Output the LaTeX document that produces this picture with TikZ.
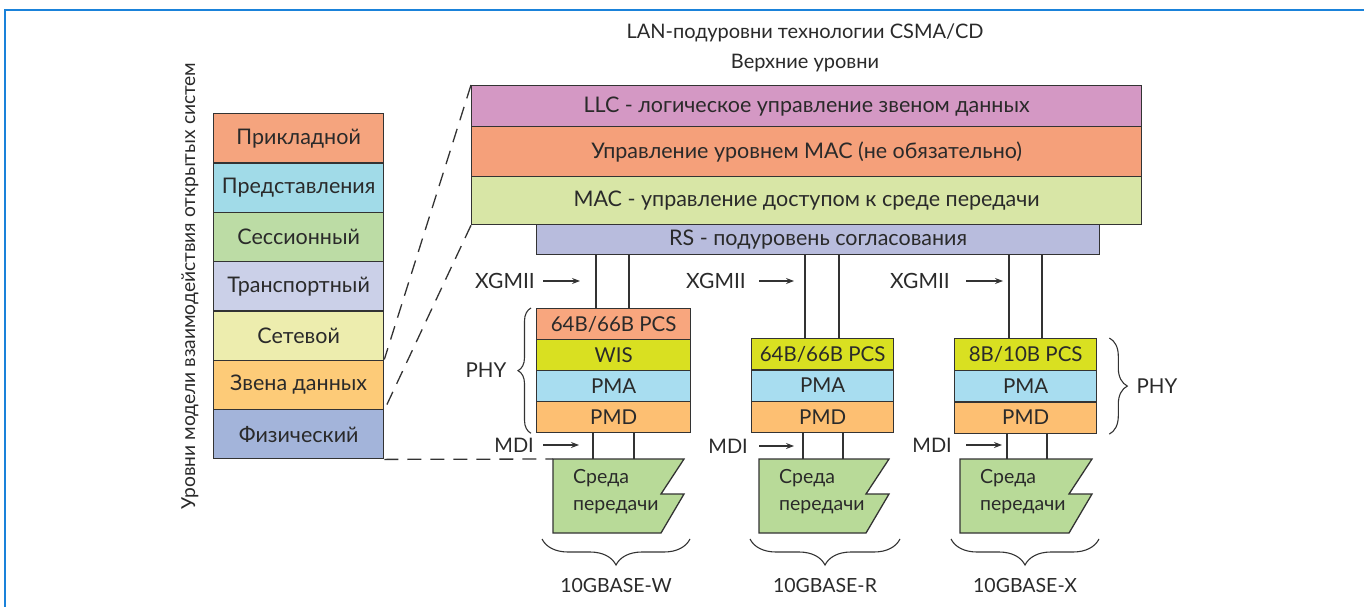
\documentclass[tikz,border=0pt]{standalone}
\usepackage{fontspec}
\setmainfont{Lato}
\usetikzlibrary{decorations.pathreplacing,arrows.meta}
\definecolor{ln}{HTML}{333333}
\definecolor{txt}{HTML}{2A2A2A}
\definecolor{frameblue}{HTML}{1A82DA}
\definecolor{cPrik}{HTML}{F5A47E}
\definecolor{cPred}{HTML}{A1DBE8}
\definecolor{cSess}{HTML}{BCDCA5}
\definecolor{cTran}{HTML}{CBD0E8}
\definecolor{cSet}{HTML}{EDEDAE}
\definecolor{cZven}{HTML}{FDCB78}
\definecolor{cFiz}{HTML}{A3B4DA}
\definecolor{cLLC}{HTML}{D498C4}
\definecolor{cUpr}{HTML}{F5A07A}
\definecolor{cMAC}{HTML}{D8E6A6}
\definecolor{cRS}{HTML}{B8BCDD}
\definecolor{cPCSo}{HTML}{F8A67E}
\definecolor{cYel}{HTML}{D9E021}
\definecolor{cPMA}{HTML}{A8DDF0}
\definecolor{cPMD}{HTML}{FDBF72}
\definecolor{cMed}{HTML}{B8DA98}
\begin{document}
\begin{tikzpicture}[x=1pt,y=-1pt,
  font=\fontsize{21.5}{25}\selectfont,
  every node/.style={text=txt},
  box/.style={draw=ln, line width=1.3pt, inner sep=0pt, anchor=north west},
  sbox/.style={box, font=\fontsize{20.5}{24}\selectfont},
  conn/.style={draw=ln, line width=1.3pt},
  dashln/.style={draw=ln, line width=1.3pt, dash pattern=on 14pt off 9pt},
  arr/.style={draw=ln, line width=1.1pt, -{Stealth[length=8pt,width=6pt]}},
  medium/.style={draw=ln, line width=1.3pt, fill=cMed},
  brc/.style={draw=ln, line width=1.1pt, decorate},
  lbl/.style={inner sep=0pt},
  xlbl/.style={lbl, font=\fontsize{21}{25}\selectfont},
  mlbl/.style={lbl, font=\fontsize{20}{24}\selectfont},
  glbl/.style={lbl, font=\fontsize{19.5}{23}\selectfont}]
\useasboundingbox (0,0) rectangle (1364,607);
\draw[frameblue, line width=2pt] (5,607) -- (5,10) -- (1364,10);

% OSI stack
\node[box, fill=cPrik, minimum width=170, minimum height=49.3] (osi1) at (213,113) {Прикладной};
\node[box, fill=cPred, minimum width=170, minimum height=49.3] (osi2) at (213,162.3) {Представления};
\node[box, fill=cSess, minimum width=170, minimum height=49.3] (osi3) at (213,211.6) {Сессионный};
\node[box, fill=cTran, minimum width=170, minimum height=49.3] (osi4) at (213,260.9) {Транспортный};
\node[box, fill=cSet, minimum width=170, minimum height=49.3] (osi5) at (213,310.2) {Сетевой};
\node[box, fill=cZven, minimum width=170, minimum height=49.3] (osi6) at (213,359.5) {Звена данных};
\node[box, fill=cFiz, minimum width=170, minimum height=49.3] (osi7) at (213,408.8) {Физический};
\node[lbl, rotate=90, font=\fontsize{19.2}{22}\selectfont] (osilbl) at (190,286) {Уровни модели взаимодействия открытых систем};

% titles
\node[lbl, font=\fontsize{20}{24}\selectfont] (title) at (805,33) {LAN-подуровни технологии CSMA/CD};
\node[lbl, font=\fontsize{20}{24}\selectfont] (upper) at (805,63) {Верхние уровни};

% LAN sublayers
\node[box, fill=cLLC, minimum width=670, minimum height=41] (llc) at (471,85) {LLC - логическое управление звеном данных};
\node[box, fill=cUpr, minimum width=670, minimum height=50] (upr) at (471,126) {Управление уровнем MAC (не обязательно)};
\node[box, fill=cMAC, minimum width=670, minimum height=48] (mac) at (471,176) {MAC - управление доступом к среде передачи};
\node[box, fill=cRS, minimum width=563, minimum height=30] (rs) at (536,224) {RS - подуровень согласования};

% dashed mapping lines
\draw[dashln] (llc.north west) -- (osi6.north east);
\draw[dashln] (mac.south west) -- (osi6.south east);

% column 1 (W)
\node[sbox, fill=cPCSo, minimum width=154, minimum height=31] (pcs1) at (536,308) {64B/66B PCS};
\node[sbox, fill=cYel, minimum width=154, minimum height=31] (wis1) at (536,339) {WIS};
\node[sbox, fill=cPMA, minimum width=154, minimum height=31] (pma1) at (536,370) {PMA};
\node[sbox, fill=cPMD, minimum width=154, minimum height=31] (pmd1) at (536,401) {PMD};

% column 2 (R)
\node[sbox, fill=cYel, minimum width=142, minimum height=31.3] (pcs2) at (751,338) {64B/66B PCS};
\node[sbox, fill=cPMA, minimum width=142, minimum height=31.3] (pma2) at (751,369.3) {PMA};
\node[sbox, fill=cPMD, minimum width=142, minimum height=31.3] (pmd2) at (751,400.6) {PMD};

% column 3 (X)
\node[sbox, fill=cYel, minimum width=142, minimum height=31.6] (pcs3) at (954,338) {8B/10B PCS};
\node[sbox, fill=cPMA, minimum width=142, minimum height=31.6] (pma3) at (954,369.6) {PMA};
\node[sbox, fill=cPMD, minimum width=142, minimum height=31.6] (pmd3) at (954,401.2) {PMD};

% media
\coordinate (m1) at (553,459);
\coordinate (m2) at (759,459);
\coordinate (m3) at (960,459);
\draw[medium] (m1) -- ++(131,0) -- ++(-23,35) -- ++(23,0) -- ++(-23,39) -- ++(-108,0) -- cycle;
\draw[medium] (m2) -- ++(130,0) -- ++(-23,35) -- ++(23,0) -- ++(-23,39) -- ++(-107,0) -- cycle;
\draw[medium] (m3) -- ++(132,0) -- ++(-23,35) -- ++(23,0) -- ++(-23,39) -- ++(-109,0) -- cycle;
\node[lbl, anchor=west, align=left, font=\fontsize{19.5}{27}\selectfont] (mt1) at ([xshift=20pt,yshift=-33pt]m1) {Среда\\передачи};
\node[lbl, anchor=west, align=left, font=\fontsize{19.5}{27}\selectfont] (mt2) at ([xshift=20pt,yshift=-33pt]m2) {Среда\\передачи};
\node[lbl, anchor=west, align=left, font=\fontsize{19.5}{27}\selectfont] (mt3) at ([xshift=20pt,yshift=-33pt]m3) {Среда\\передачи};

\draw[dashln] (osi7.south east) -- (m1);

% connectors RS -> PCS
\draw[conn] ([xshift=60pt]pcs1.north west) -- ([xshift=60pt]pcs1.north west |- rs.south);
\draw[conn] ([xshift=93pt]pcs1.north west) -- ([xshift=93pt]pcs1.north west |- rs.south);
\draw[conn] ([xshift=54pt]pcs2.north west) -- ([xshift=54pt]pcs2.north west |- rs.south);
\draw[conn] ([xshift=88pt]pcs2.north west) -- ([xshift=88pt]pcs2.north west |- rs.south);
\draw[conn] ([xshift=55pt]pcs3.north west) -- ([xshift=55pt]pcs3.north west |- rs.south);
\draw[conn] ([xshift=88pt]pcs3.north west) -- ([xshift=88pt]pcs3.north west |- rs.south);

% connectors PMD -> medium
\draw[conn] ([xshift=57pt]pmd1.south west) -- ([xshift=57pt]pmd1.south west |- m1);
\draw[conn] ([xshift=98pt]pmd1.south west) -- ([xshift=98pt]pmd1.south west |- m1);
\draw[conn] ([xshift=52pt]pmd2.south west) -- ([xshift=52pt]pmd2.south west |- m2);
\draw[conn] ([xshift=92pt]pmd2.south west) -- ([xshift=92pt]pmd2.south west |- m2);
\draw[conn] ([xshift=53pt]pmd3.south west) -- ([xshift=53pt]pmd3.south west |- m3);
\draw[conn] ([xshift=93pt]pmd3.south west) -- ([xshift=93pt]pmd3.south west |- m3);

% XGMII labels and arrows
\node[xlbl, anchor=east] (xg1) at (535,281) {XGMII};
\node[xlbl, anchor=east] (xg2) at (746,281) {XGMII};
\node[xlbl, anchor=east] (xg3) at (950,281) {XGMII};
\draw[arr] ([xshift=8pt]xg1.east) -- ++(37,0);
\draw[arr] ([xshift=13pt]xg2.east) -- ++(35,0);
\draw[arr] ([xshift=16pt]xg3.east) -- ++(37,0);

% MDI labels and arrows
\node[mlbl, anchor=east] (mdi1) at (534,445) {MDI};
\node[mlbl, anchor=east] (mdi2) at (748,446) {MDI};
\node[mlbl, anchor=east] (mdi3) at (952,445) {MDI};
\draw[arr] ([xshift=9pt]mdi1.east) -- ++(36,0);
\draw[arr] ([xshift=11pt]mdi2.east) -- ++(35,0);
\draw[arr] ([xshift=14pt]mdi3.east) -- ++(36,0);

% PHY braces
\draw[brc, decoration={brace, amplitude=13pt}] ([xshift=-5pt]pmd1.south west) -- ([xshift=-5pt]pcs1.north west);
\node[sbox, draw=none, anchor=east, inner sep=0pt] (phy1) at (507,370) {PHY};
\draw[brc, decoration={brace, amplitude=18pt}] ([xshift=12pt]pcs3.north east) -- ([xshift=12pt]pmd3.south east);
\node[sbox, draw=none, anchor=west, inner sep=0pt] (phy3) at (1136,386) {PHY};

% bottom braces
\coordinate (b1l) at (542,539); \coordinate (b1r) at (690,539);
\coordinate (b2l) at (750,539); \coordinate (b2r) at (900,539);
\coordinate (b3l) at (951,539); \coordinate (b3r) at (1099,539);
\draw[brc, decoration={brace, amplitude=26pt}] (b1r) -- (b1l);
\draw[brc, decoration={brace, amplitude=26pt}] (b2r) -- (b2l);
\draw[brc, decoration={brace, amplitude=26pt}] (b3r) -- (b3l);
\node[glbl] (g1) at (616,586) {10GBASE-W};
\node[glbl] (g2) at (825,586) {10GBASE-R};
\node[glbl] (g3) at (1025,586) {10GBASE-X};
\end{tikzpicture}
\end{document}
